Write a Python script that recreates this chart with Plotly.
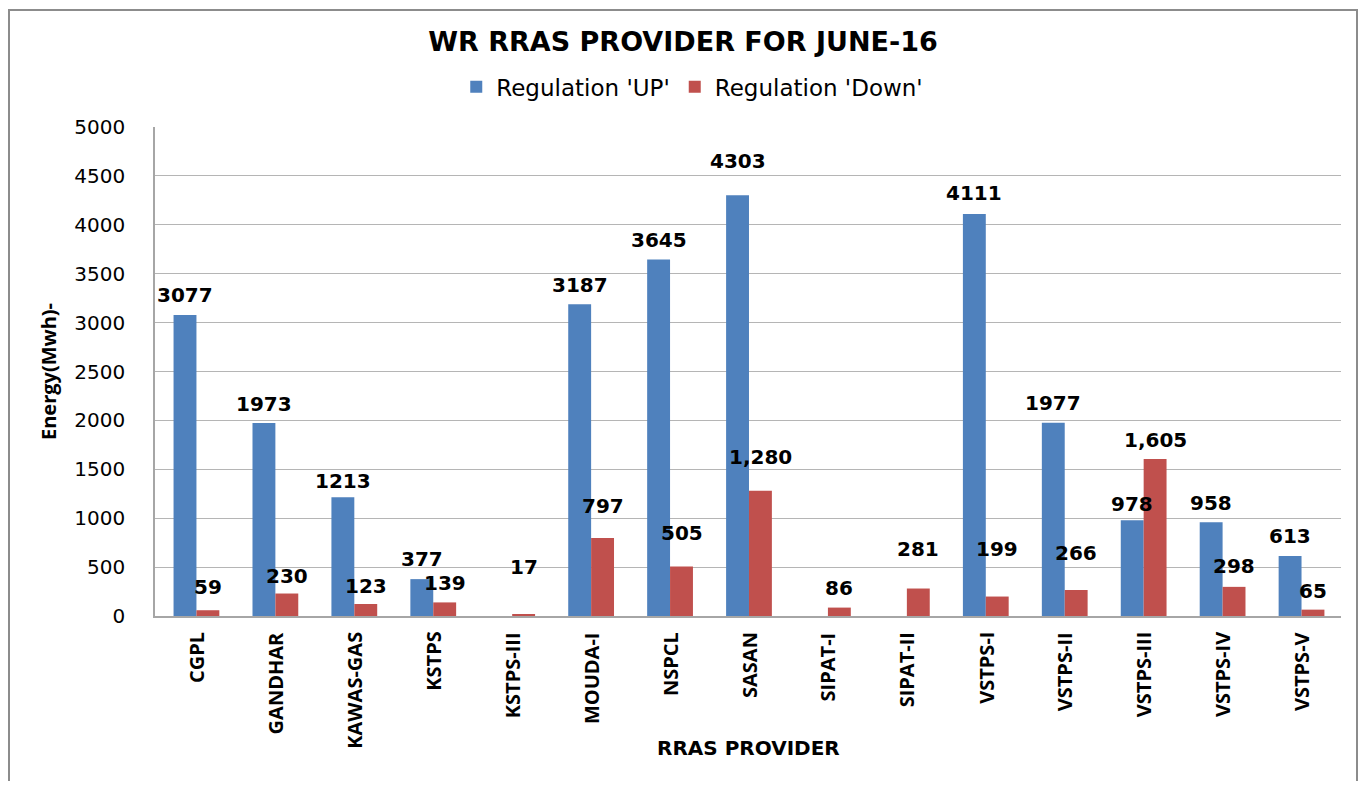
"""
WR RRAS provider chart — regulation up / down energy per station, June-16.
"""

import plotly.graph_objects as go

providers = [
    "CGPL", "GANDHAR", "KAWAS-GAS", "KSTPS", "KSTPS-III", "MOUDA-I", "NSPCL",
    "SASAN", "SIPAT-I", "SIPAT-II", "VSTPS-I", "VSTPS-II", "VSTPS-III",
    "VSTPS-IV", "VSTPS-V",
]
regulation_up = [3077, 1973, 1213, 377, 0, 3187, 3645, 4303, 0, 0, 4111, 1977, 978, 958, 613]
regulation_down = [59, 230, 123, 139, 17, 797, 505, 1280, 86, 281, 199, 266, 1605, 298, 65]

y_ticks = [0, 500, 1000, 1500, 2000, 2500, 3000, 3500, 4000, 4500, 5000]

# label lift above the bar top (px) — the source chart has hand-placed labels
up_lift = [20, 19, 16, 20, 0, 19, 20, 34, 0, 0, 21, 20, 16, 19, 20]
down_lift = [23, 18, 18, 19, 47, 32, 34, 34, 20, 40, 48, 37, 19, 21, 19]

BLUE = "#4F81BD"
RED = "#C0504D"
WIDE = "DejaVu Sans"
NARROW = "Open Sans"
BARGAP = 0.42

# figure is 16px smaller than the window: the page body adds an 8px margin
W, H = 1350, 773

fig = go.Figure()
fig.add_trace(go.Bar(
    x=providers, y=regulation_up, name="Regulation 'UP'",
    marker=dict(color=BLUE, line=dict(width=0)),
))
fig.add_trace(go.Bar(
    x=providers, y=regulation_down, name="Regulation 'Down'",
    marker=dict(color=RED, line=dict(width=0)),
))

# data labels, centred on each bar of the group
half = (1 - BARGAP) / 4
for i, name in enumerate(providers):
    if regulation_up[i] > 0:
        fig.add_annotation(
            x=i - half, y=regulation_up[i], text=str(regulation_up[i]),
            showarrow=False, yanchor="middle", yshift=up_lift[i],
            font=dict(family=WIDE, size=20, color="black", weight="bold"),
        )
    if regulation_down[i] > 0:
        fig.add_annotation(
            x=i + half, y=regulation_down[i], text=f"{regulation_down[i]:,}",
            showarrow=False, yanchor="middle", yshift=down_lift[i],
            font=dict(family=WIDE, size=20, color="black", weight="bold"),
        )
    # category label, vertical and top-aligned just under the axis
    fig.add_annotation(
        x=i, y=0, text=f"<b>{name}</b>", textangle=-90,
        showarrow=False, yanchor="top", yshift=-14,
        font=dict(family=NARROW, size=20, color="black"),
    )

# x axis title sits level with the bottom of the rotated labels
fig.add_annotation(
    text="<b>RRAS PROVIDER</b>", xref="paper", yref="paper",
    x=0.5, y=-0.27, showarrow=False, xanchor="center", yanchor="middle",
    font=dict(family=WIDE, size=20, color="black"),
)

# outer chart frame
fig.add_shape(
    type="rect", xref="paper", yref="paper",
    x0=-0.1231, x1=1.0135, y0=-0.40, y1=1.2393,
    line=dict(color="#8C8C8C", width=2), fillcolor="rgba(0,0,0,0)", layer="below",
)

fig.update_layout(
    width=W, height=H,
    title=dict(
        text="<b>WR RRAS PROVIDER FOR JUNE-16</b>",
        x=675 / W, xref="container", xanchor="center",
        y=1 - 34 / H, yref="container", yanchor="middle",
        font=dict(family=WIDE, size=27, color="black"),
    ),
    barmode="group", bargap=BARGAP, bargroupgap=0,
    legend=dict(
        orientation="h", x=0.453, xanchor="center", y=1.082, yanchor="middle",
        font=dict(family=WIDE, size=23, color="black"),
        itemsizing="constant", traceorder="normal",
    ),
    xaxis=dict(
        showticklabels=False,
        showline=True, linecolor="#A6A6A6", linewidth=1.5,
        showgrid=False, ticks="",
    ),
    yaxis=dict(
        title=dict(text="Energy(Mwh)-", standoff=12,
                   font=dict(family=NARROW, size=20, color="black", weight="bold")),
        range=[0, 5000], tickvals=y_ticks,
        tickfont=dict(family=WIDE, size=20, color="black"),
        showline=True, linecolor="#A6A6A6", linewidth=1.5,
        showgrid=True, gridcolor="#B5B5B5", gridwidth=1,
        zeroline=False, ticks="", ticklabelstandoff=24,
    ),
    plot_bgcolor="white",
    paper_bgcolor="white",
    margin=dict(l=147, r=17, t=119, b=165),
)

fig.write_html("out.html")
